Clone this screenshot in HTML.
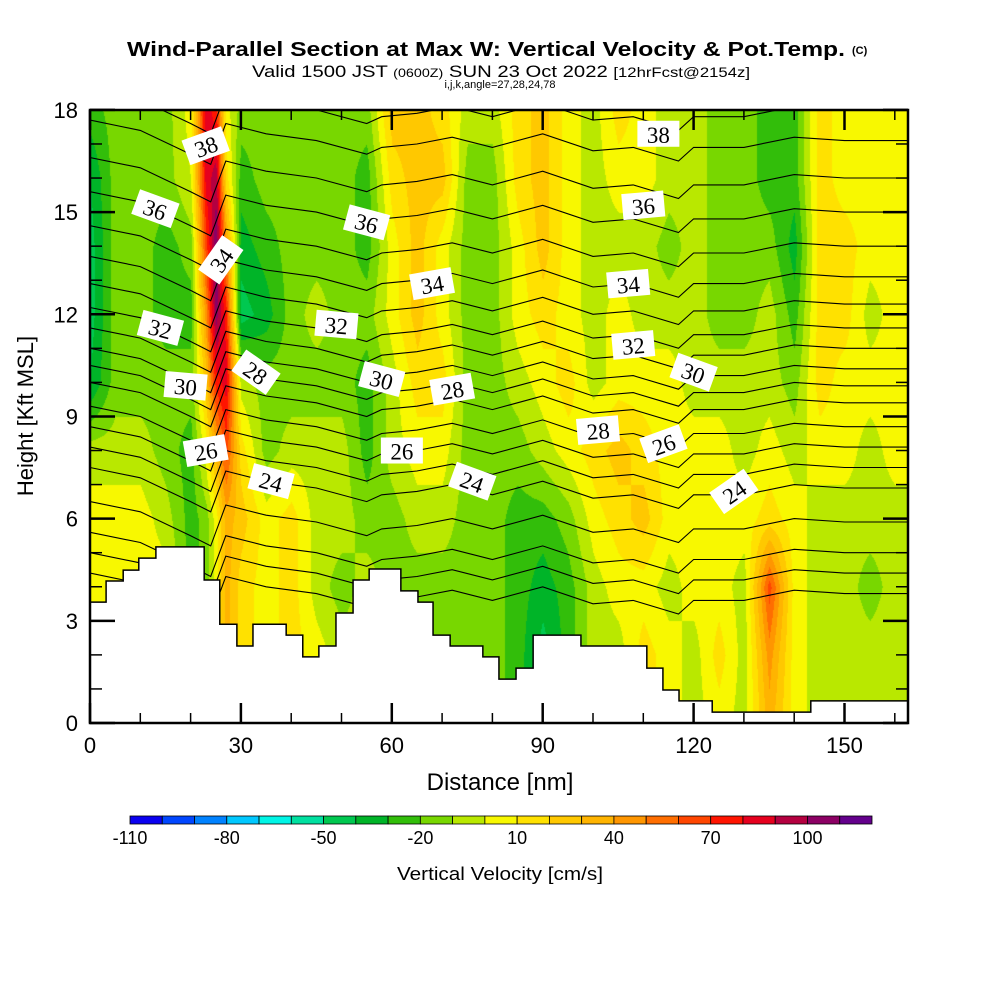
<!DOCTYPE html>
<html><head><meta charset="utf-8"><style>
html,body{margin:0;padding:0;background:#fff;}
#wrap{position:relative;width:1000px;height:1000px;overflow:hidden;font-family:"Liberation Sans",sans-serif;}
canvas{position:absolute;left:90px;top:110px;}
svg{position:absolute;left:0;top:0;}
</style></head><body>
<div id="wrap">
<canvas id="cv" width="818" height="613"></canvas>
<svg id="sv" width="1000" height="1000">
<defs><clipPath id="pc"><rect x="90" y="110" width="818" height="613"/></clipPath></defs>
<text x="127" y="56" font-size="20" font-weight="bold" textLength="718" lengthAdjust="spacingAndGlyphs">Wind-Parallel Section at Max W: Vertical Velocity &amp; Pot.Temp.</text>
<text x="852" y="54" font-size="11" font-weight="bold">(C)</text>
<text x="252" y="77" font-size="17" textLength="498" lengthAdjust="spacingAndGlyphs">Valid 1500 JST <tspan font-size="12">(0600Z)</tspan> SUN 23 Oct 2022 <tspan font-size="14">[12hrFcst@2154z]</tspan></text>
<text x="500" y="88" font-size="11" text-anchor="middle">i,j,k,angle=27,28,24,78</text>
<text x="500" y="790" font-size="24" text-anchor="middle">Distance [nm]</text>
<text transform="translate(33,416) rotate(-90)" font-size="22" text-anchor="middle">Height [Kft MSL]</text>
<text x="397" y="880" font-size="18" textLength="206" lengthAdjust="spacingAndGlyphs">Vertical Velocity [cm/s]</text>
<g id="gl" clip-path="url(#pc)"></g>
<g id="g"></g>
</svg>
</div>
<script>
// ---- data ----
const xs=[0,5,10,15,20,23,25,27,30,35,40,45,50,55,60,65,70,75,80,85,90,95,100,105,110,115,120,125,130,135,140,145,150,155,160];
const zs=[0,2,4,6,8,10,12,14,16,18];
const vvel=[
[5,5,5,5,-5,-40,-45,-45,-40,-25],
[5,5,5,5,-5,-15,-15,-15,-15,-15],
[5,5,5,5,-5,-15,-15,-15,-15,-15],
[5,5,5,-5,-15,-15,-25,-25,-15,-15],
[-25,-25,-25,-25,-25,-15,-25,-15,0,5],
[-15,-15,-15,-15,5,25,45,65,85,85],
[5,5,5,5,35,75,105,110,95,75],
[35,35,35,35,65,85,75,45,15,5],
[15,15,15,25,15,-5,-45,-35,-25,-15],
[5,5,5,5,-15,-15,-35,-25,-15,-15],
[15,15,15,15,-5,-15,-15,-15,-15,-15],
[5,5,-5,-5,-5,-15,-5,-15,-15,-15],
[-5,-5,-15,-5,-5,-15,-15,-15,-15,-15],
[-5,-5,-5,-15,-25,-25,-15,-25,-25,-15],
[-15,-15,-15,-15,-5,-5,5,5,15,25],
[-15,-15,-15,-5,5,15,25,25,25,25],
[-15,-15,-15,-5,5,15,5,5,25,15],
[-15,-15,-15,-15,-15,-15,-15,-15,-15,-5],
[-15,-15,-15,-15,-15,-15,-15,-15,-15,-5],
[-25,-25,-25,-25,-15,-5,5,5,15,15],
[-45,-45,-35,-25,-5,5,15,25,25,25],
[-25,-25,-25,-15,5,15,5,5,5,5],
[-5,-5,-5,5,15,-5,-5,-5,-5,-5],
[-5,-5,5,15,25,5,5,-5,5,15],
[15,15,5,25,15,5,-5,-5,5,5],
[5,5,-5,5,5,5,-5,-15,-5,-5],
[-5,-5,5,5,5,-5,-5,-5,-5,-5],
[5,15,5,5,5,-5,-15,-15,-15,-15],
[-5,-5,-5,5,-5,-5,-15,-15,-15,-15],
[35,45,65,15,5,-5,-5,-15,-25,-25],
[5,5,5,5,-5,-15,-25,-35,-25,-25],
[-5,-5,-5,-5,5,15,15,15,15,15],
[-5,-5,-5,-5,5,5,15,15,5,5],
[-5,-5,-15,-5,-5,5,-5,5,5,5],
[-5,-5,-5,-5,5,5,5,5,5,5]];
const levelMin=-110, levelStep=10;
const palette=["#0a00f0","#0046ff","#0082ff","#00c8ff","#00f5e6","#00e0a0","#00c850","#00b428","#32be0a","#78d700","#b9e800","#f8f800","#ffe100","#ffc800","#ffb400","#ff9600","#ff6e00","#ff4600","#ff1400","#e6001e","#b40040","#8c0064","#64008c"];
const cbLabels=["-110","-80","-50","-20","10","40","70","100"];
const cbLabelIdx=[0,3,6,9,12,15,18,21];
const terrainX=[0,3.2,6.6,9.7,13.1,22.7,25.8,29.2,32.4,39,42.3,45.5,48.9,52.3,55.5,61.8,65.2,68.2,71.6,78.1,81.3,84.7,88.1,97.6,110.7,113.9,117.1,123.7,143.3];
const terrainZ=[3.55,4.17,4.49,4.84,5.17,4.2,2.9,2.26,2.9,2.58,1.94,2.26,3.23,4.2,4.52,3.88,3.55,2.58,2.26,1.94,1.29,1.61,2.58,2.26,1.61,0.97,0.65,0.32,0.65];
const thetaLevels=[20,21,22,23,24,25,26,27,28,29,30,31,32,33,34,35,36,37,38,39];
const thetaBase=[3.8,4.4,5.0,5.9,6.9,7.5,8.1,8.7,9.4,9.9,10.4,11.0,11.6,12.3,13.1,14.0,15.0,16.0,17.1,18.0];
const offX=[0,10,20,24,27,35,45,55,58,65,72,80,90,100,108,117,120,130,140,150,163];
const offZ=[0.6,0.3,-0.4,-0.7,0.5,0.2,0,-0.4,-0.2,-0.1,0.1,-0.2,0.2,-0.3,-0.2,-0.6,-0.2,-0.2,0.1,0,0];
const labVal=["38","38","36","36","36","34","34","34","32","32","32","30","30","30","28","28","28","26","26","26","24","24","24"];
const labX=[23,113,13,55,110,26,68,107,14,49,108,19,58,120,33,72,101,23,62,114,36,76,128];
const labZ=[16.95,17.3,15.1,14.7,15.2,13.6,12.9,12.9,11.6,11.7,11.1,9.9,10.1,10.3,10.3,9.8,8.6,8.0,8.0,8.2,7.1,7.1,6.8];
const labRot=[-20,0,20,15,-5,-55,-10,-5,15,5,-5,5,15,20,35,-10,-5,-10,0,-20,15,20,-35];
const xTicks=[0,30,60,90,120,150];
const yTicks=[0,3,6,9,12,15,18];
// ---- axes ----
const X0=90,Y0=723,W=818,H=613,XMAX=W/5.03;
const sx=x=>X0+x*5.03, sz=z=>Y0-z*34.06;
function interp1(ax,ay,x){if(x<=ax[0])return ay[0];for(let i=1;i<ax.length;i++){if(x<=ax[i]){const t=(x-ax[i-1])/(ax[i]-ax[i-1]);return ay[i-1]+t*(ay[i]-ay[i-1]);}}return ay[ay.length-1];}
// ---- field ----
const cv=document.getElementById('cv'),ctx=cv.getContext('2d');
const img=ctx.createImageData(W,H);
const rgb=palette.map(c=>[parseInt(c.slice(1,3),16),parseInt(c.slice(3,5),16),parseInt(c.slice(5,7),16)]);
for(let px=0;px<W;px++){
  const x=px/5.03;let i=0;while(i<xs.length-2&&x>xs[i+1])i++;
  let tx=(x-xs[i])/(xs[i+1]-xs[i]);tx=Math.max(0,Math.min(1,tx));
  for(let py=0;py<H;py++){
    const z=(H-py)/34.06;let j=Math.min(8,Math.floor(z/2));let tz=(z-zs[j])/2;tz=Math.max(0,Math.min(1,tz));
    const v=(1-tx)*((1-tz)*vvel[i][j]+tz*vvel[i][j+1])+tx*((1-tz)*vvel[i+1][j]+tz*vvel[i+1][j+1]);
    let k=Math.floor((v-levelMin)/levelStep);k=Math.max(0,Math.min(22,k));
    const o=(py*W+px)*4;img.data[o]=rgb[k][0];img.data[o+1]=rgb[k][1];img.data[o+2]=rgb[k][2];img.data[o+3]=255;
  }}
ctx.putImageData(img,0,0);
// ---- svg ----
const NS="http://www.w3.org/2000/svg",g=document.getElementById('g'),gl=document.getElementById('gl');
function mk(t,a,p){const e=document.createElementNS(NS,t);for(const k in a)e.setAttribute(k,a[k]);(p||g).appendChild(e);return e;}
// contour lines
thetaLevels.forEach((th,ti)=>{
  let pts=[];for(const ox of offX){const x=Math.min(ox,XMAX);pts.push(sx(x).toFixed(1)+","+sz(thetaBase[ti]+interp1(offX,offZ,x)).toFixed(1));}
  const e=mk('polyline',{points:pts.join(' '),fill:'none',stroke:'#000','stroke-width':1.1},gl);
  
  
});
// terrain
let tp=[sx(0)+","+sz(0)];
for(let i=0;i<terrainX.length;i++){const x2=i+1<terrainX.length?terrainX[i+1]:XMAX;tp.push(sx(terrainX[i])+","+sz(terrainZ[i]));tp.push(sx(x2)+","+sz(terrainZ[i]));}
tp.push(sx(XMAX)+","+sz(0));
const ter=mk('polygon',{points:tp.join(' '),fill:'#fff',stroke:'#000','stroke-width':1.5});


// contour labels
labVal.forEach((v,i)=>{
  const gg=mk('g',{transform:`translate(${sx(labX[i])},${sz(labZ[i])}) rotate(${labRot[i]})`});
  
  
  mk('rect',{x:-21,y:-13,width:42,height:26,fill:'#fff'},gg);
  const t=mk('text',{x:0,y:9,'font-size':23,'text-anchor':'middle','font-family':'Liberation Serif, serif'},gg);t.textContent=v;
});
// frame & ticks
const fr=mk('rect',{x:X0,y:110,width:W,height:H,fill:'none',stroke:'#000','stroke-width':2.5});


for(let x=0;x<=160;x+=10){const big=x%30==0,L=big?20:10;
  mk('line',{x1:sx(x),y1:Y0,x2:sx(x),y2:Y0-L,stroke:'#000','stroke-width':big?2.5:1.5});
  mk('line',{x1:sx(x),y1:110,x2:sx(x),y2:110+L,stroke:'#000','stroke-width':big?2.5:1.5});}
for(let z=0;z<=18;z++){const big=z%3==0,L=big?25:12;
  mk('line',{x1:X0,y1:sz(z),x2:X0+L,y2:sz(z),stroke:'#000','stroke-width':big?2.5:1.5});
  mk('line',{x1:X0+W,y1:sz(z),x2:X0+W-L,y2:sz(z),stroke:'#000','stroke-width':big?2.5:1.5});}
xTicks.forEach(v=>{const t=mk('text',{x:sx(v),y:753,'font-size':22,'text-anchor':'middle'});t.textContent=v;
  
  });
yTicks.forEach(v=>{const t=mk('text',{x:78,y:sz(v)+8,'font-size':22,'text-anchor':'end'});t.textContent=v;
  
  });
// colorbar
const bw=742/23;
palette.forEach((c,i)=>{const r=mk('rect',{x:130+i*bw,y:816,width:bw,height:8,fill:c,stroke:'#000','stroke-width':0.8});
  
  });
cbLabels.forEach((l,i)=>{const t=mk('text',{x:130+cbLabelIdx[i]*bw,y:844,'font-size':18,'text-anchor':'middle'});t.textContent=l;
  
  });
</script>
</body></html>
